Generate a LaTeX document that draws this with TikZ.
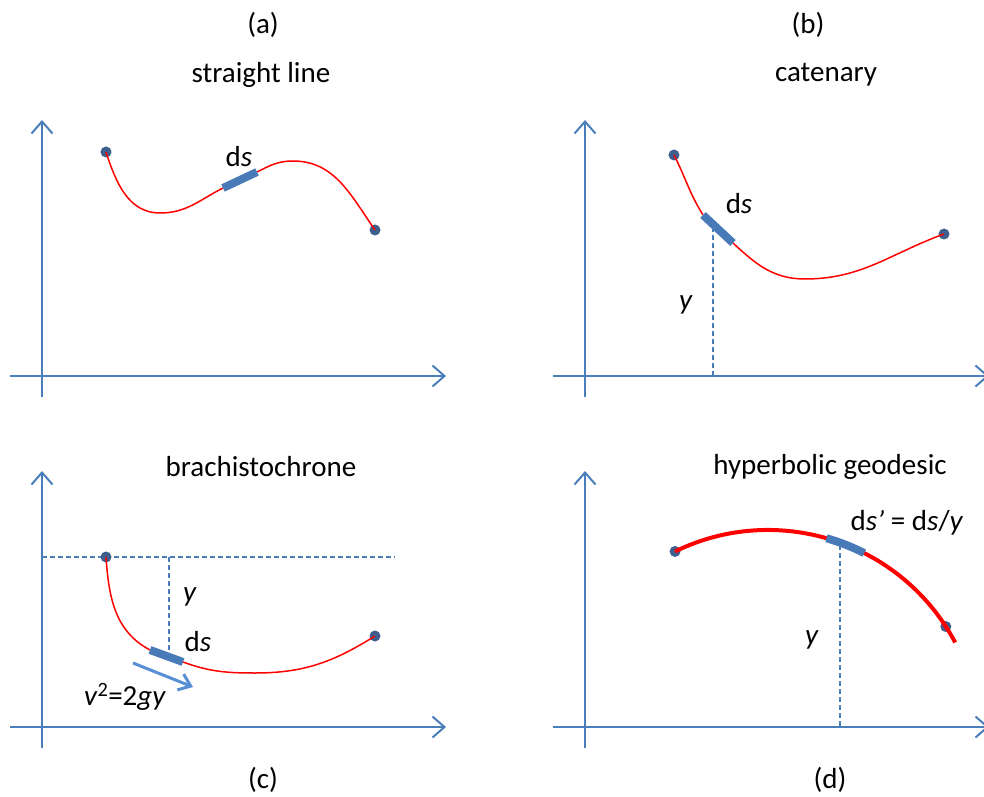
\documentclass[tikz,border=0pt]{standalone}
\usepackage{fontspec}
\setmainfont{Carlito}
\usepackage{tikz}
\usetikzlibrary{arrows.meta,calc}
\definecolor{axisblue}{RGB}{74,126,187}
\definecolor{dotblue}{RGB}{62,94,142}
\definecolor{barblue}{RGB}{72,122,184}
\definecolor{vblue}{RGB}{88,142,212}

\begin{document}
\begin{tikzpicture}[
      x=1pt, y=1pt, font=\fontsize{29}{34}\selectfont,
      axis/.style={draw=axisblue, line width=2pt,
                   -{Straight Barb[length=12pt, width=21pt]}},
      curve/.style={draw=red, line width=1.5pt},
      thickcurve/.style={draw=red, line width=4pt},
      bar/.style={draw=barblue, line width=8pt},
      guide/.style={draw=axisblue, line width=1.2pt, dash pattern=on 5pt off 3pt},
      varrow/.style={draw=vblue, line width=3pt,
                     -{Straight Barb[length=11pt, width=17pt]}},
      dot/.style={circle, fill=dotblue, inner sep=0pt, minimum size=11pt},
    ]
    \useasboundingbox (0,0) rectangle (984,796);
    \clip (0,0) rectangle (984,796);

    % axes of the four panels
    \foreach \p/\dx/\dy in {a/0/0, b/543/0, c/0/351, d/543/351} {
      \coordinate (\p y0) at (42+\dx, 399-\dy);
      \coordinate (\p y1) at (42+\dx, 676-\dy);
      \coordinate (\p x0) at (10+\dx, 420-\dy);
      \coordinate (\p x1) at (446+\dx, 420-\dy);
      \draw[axis] (\p y0) -- (\p y1);
      \draw[axis] (\p x0) -- (\p x1);
    }

    % (a) straight line
    \node (ta) at (263,771) {(a)};
    \node (sa) at (261,721) {straight line};
    \node[dot] (a1) at (106,644) {};
    \node[dot] (a2) at (375,566) {};
    \coordinate (as) at (223,608);
    \coordinate (ae) at (257,624);
    \draw[curve] (a1.center) to[out=-72, in=180] (160,583) to[out=0, in=207] (as);
    \draw[curve] (ae) to[out=27, in=180] (293,635) to[out=0, in=125] (a2.center);
    \draw[bar] (as) -- (ae);
    \node (dsa) at (239,639) {d\textit{s}};

    % (b) catenary
    \node (tb) at (808,771) {(b)};
    \node (sb) at (826,721) {catenary};
    \node[dot] (b1) at (674,641) {};
    \node[dot] (b2) at (944,562) {};
    \coordinate (bs) at (703,581);
    \coordinate (be) at (733,553);
    \draw[curve] (b1.center) to[out=-63, in=122] (bs);
    \draw[curve] (be) to[out=-43, in=180] (805,517) to[out=0, in=200] (b2.center);
    \draw[bar] (bs) -- (be);
    \coordinate (bt) at (713,569);
    \coordinate (bf) at (713,420);
    \draw[guide] (bt) -- (bf);
    \node (dsb) at (739,592) {d\textit{s}};
    \node (yb) at (686,491) {\textit{y}};

    % (c) brachistochrone
    \node (tc) at (263,16) {(c)};
    \node (sc) at (261,329) {brachistochrone};
    \coordinate (hl) at (42,239);
    \coordinate (hr) at (395,239);
    \draw[guide] (hl) -- (hr);
    \node[dot] (c1) at (106,239) {};
    \node[dot] (c2) at (375,160) {};
    \coordinate (cs) at (150,146);
    \coordinate (ce) at (183,134);
    \draw[curve] (c1.center) to[out=-86, in=152] (cs);
    \draw[curve] (ce) to[out=-20, in=180] (255,123) to[out=0, in=212] (c2.center);
    \draw[bar] (cs) -- (ce);
    \coordinate (ct) at (169,239);
    \coordinate (cf) at (169,146);
    \draw[guide] (ct) -- (cf);
    \coordinate (vs) at (133,133);
    \coordinate (vt) at (193,109);
    \draw[varrow] (vs) -- (vt);
    \node (yc) at (190,199) {\textit{y}};
    \node (dsc) at (198,154) {d\textit{s}};
    \node (vc) at (125,99) {\textit{v}\textsuperscript{2}=2\textit{gy}};

    % (d) hyperbolic geodesic
    \node (td) at (830,16) {(d)};
    \node (sd) at (830,329) {hyperbolic geodesic};
    \coordinate (dc) at (768,54);
    \node[dot] (d1) at ($(dc)+(116:212)$) {};
    \node[dot] (d2) at ($(dc)+(33:212)$) {};
    \draw[thickcurve] (d1.center) arc[start angle=116, end angle=28, radius=212];
    \coordinate (ds1) at ($(dc)+(74:212)$);
    \draw[bar] (ds1) arc[start angle=74, end angle=63, radius=212];
    \coordinate (dt) at (840,251);
    \coordinate (df) at (840,69);
    \draw[guide] (dt) -- (df);
    \node (yd) at (812,156) {\textit{y}};
    \node (dsd) at (907,273) {d\textit{s'} = d\textit{s}/\textit{y}};
  \end{tikzpicture}
\end{document}
